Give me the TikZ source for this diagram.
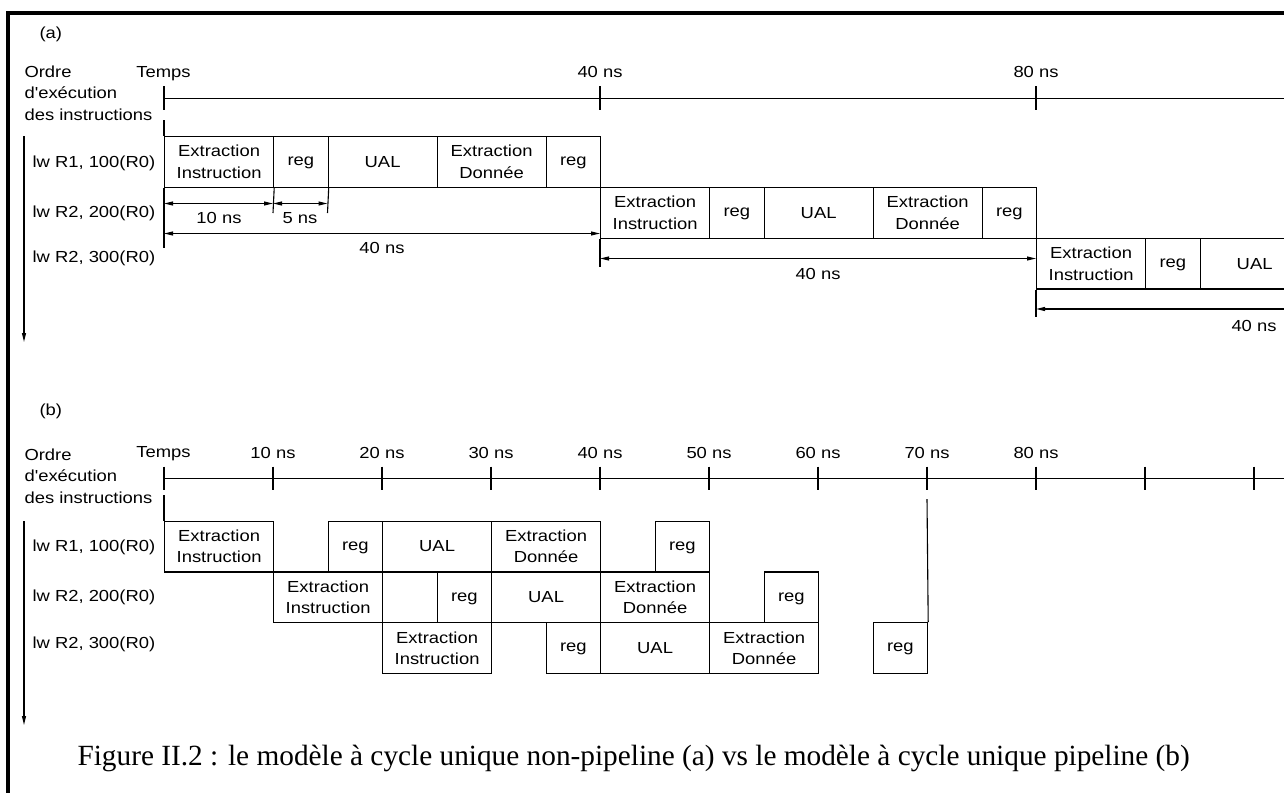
\documentclass[tikz,border=0pt]{standalone}
\usepackage{fontspec}
\setmainfont{Liberation Serif}
\newfontfamily\diagsf[FakeStretch=1.15]{Liberation Sans}
\usetikzlibrary{arrows.meta}

\begin{document}
\begin{tikzpicture}[x=1pt,y=-1pt, line width=1.1pt,
  every node/.style={font=\diagsf\fontsize{16}{21.5}\selectfont, inner sep=0pt},
  stagebox/.style={draw, line width=1.2pt, minimum height=50.8pt, anchor=north west, align=center},
  lbl/.style={anchor=base},
  rowlbl/.style={anchor=base west},
  tip/.style={-{Triangle[length=9pt,width=4pt]}},
  dim/.style={{Triangle[length=9pt,width=4pt]}-{Triangle[length=9pt,width=4pt]}},
  frame/.style={line width=4pt, line join=miter},
]
\useasboundingbox (0,0) rectangle (1284,792);
\clip (0,0) rectangle (1284,792);

% frame
\draw[frame] (8,800) -- (8,13) -- (1300,13);

% ================= (a) =================
\node[anchor=base west] (lblA) at (39,38) {(a)};
\node[anchor=north west, align=left] (ordreA) at (24,65.3) {Ordre\\d'exécution\\des instructions};
\node[lbl] (tempsA) at (163.5,77.5) {Temps};
\node[lbl] (t40A) at (600,77.5) {40 ns};
\node[lbl] (t80A) at (1036,77.5) {80 ns};

\coordinate (aAx0) at (164,98.3);
\coordinate (aAxE) at (1300,98.3);
\draw (aAx0) -- (aAxE);
\foreach \x in {164,600,1036} \draw (\x,86) -- (\x,110);

\node[rowlbl] (ra1) at (32,167) {lw R1, 100(R0)};
\node[rowlbl] (ra2) at (32,217) {lw R2, 200(R0)};
\node[rowlbl] (ra3) at (32,262) {lw R2, 300(R0)};

% row 1
\node[stagebox, minimum width=109pt] (a1if) at (164,136) {Extraction\\Instruction};
\node[stagebox, minimum width=54.5pt] (a1r1) at (273,136) {\vphantom{U}reg};
\node[stagebox, minimum width=109pt] (a1alu) at (327.5,136) {UAL};
\node[stagebox, minimum width=109pt] (a1dm) at (436.5,136) {Extraction\\Donnée};
\node[stagebox, minimum width=54.5pt] (a1r2) at (545.5,136) {\vphantom{U}reg};
% row 2
\node[stagebox, minimum width=109pt] (a2if) at (600,186.8) {Extraction\\Instruction};
\node[stagebox, minimum width=54.5pt] (a2r1) at (709,186.8) {\vphantom{U}reg};
\node[stagebox, minimum width=109pt] (a2alu) at (763.5,186.8) {UAL};
\node[stagebox, minimum width=109pt] (a2dm) at (872.5,186.8) {Extraction\\Donnée};
\node[stagebox, minimum width=54.5pt] (a2r2) at (981.5,186.8) {\vphantom{U}reg};
% row 3 (runs past the right edge)
\node[stagebox, minimum width=109pt] (a3if) at (1036,237.6) {Extraction\\Instruction};
\node[stagebox, minimum width=54.5pt] (a3r1) at (1145,237.6) {\vphantom{U}reg};
\node[stagebox, minimum width=109pt] (a3alu) at (1199.5,237.6) {UAL};

\coordinate (aTempsLow) at (164,120);
\draw (aTempsLow) -- (a1if.north west);

% dimensions
\coordinate (aExt0) at (164,248);
\draw (a1if.south west) -- (aExt0);
\coordinate (aExt10) at (273,213);
\coordinate (aExt15) at (327.5,213);
\draw (a1if.south east) -- (aExt10);
\draw (a1r1.south east) -- (aExt15);
\coordinate (d10l) at (164,203.5);
\coordinate (d10r) at (273,203.5);
\coordinate (d5r) at (327.5,203.5);
\draw[dim] (d10l) -- (d10r);
\draw[dim] (d10r) -- (d5r);
\node[lbl] (l10) at (219,223) {10 ns};
\node[lbl] (l5) at (300,223) {5 ns};

\coordinate (d40al) at (164,233.5);
\coordinate (d40ar) at (600,233.5);
\draw[dim] (d40al) -- (d40ar);
\node[lbl] (l40a) at (382,253) {40 ns};

\coordinate (aExt40) at (600,267);
\draw (a2if.south west) -- (aExt40);
\coordinate (d40bl) at (600,258.5);
\coordinate (d40br) at (1036,258.5);
\draw[dim] (d40bl) -- (d40br);
\node[lbl] (l40b) at (818,279) {40 ns};

\coordinate (aExt80) at (1036,317);
\draw (a3if.south west) -- (aExt80);
\coordinate (d40cl) at (1036,309);
\coordinate (d40cr) at (1472,309);
\draw[dim] (d40cl) -- (d40cr);
\node[lbl] (l40c) at (1254,331.5) {40 ns};

% order arrow
\coordinate (aOrd0) at (24,136);
\coordinate (aOrd1) at (24,342);
\draw[tip] (aOrd0) -- (aOrd1);

% ================= (b) =================
\node[anchor=base west] (lblB) at (39,415) {(b)};
\node[anchor=north west, align=left] (ordreB) at (24,448.3) {Ordre\\d'exécution\\des instructions};
\node[lbl] (tempsB) at (163.5,457.5) {Temps};
\node[lbl] (t10B) at (273,458.5) {10 ns};
\node[lbl] (t20B) at (382,458.5) {20 ns};
\node[lbl] (t30B) at (491,458.5) {30 ns};
\node[lbl] (t40B) at (600,458.5) {40 ns};
\node[lbl] (t50B) at (709,458.5) {50 ns};
\node[lbl] (t60B) at (818,458.5) {60 ns};
\node[lbl] (t70B) at (927,458.5) {70 ns};
\node[lbl] (t80B) at (1036,458.5) {80 ns};

\coordinate (bAx0) at (164,478.3);
\coordinate (bAxE) at (1300,478.3);
\draw (bAx0) -- (bAxE);
\foreach \k in {0,...,10} \draw ({164+109*\k},466.5) -- ({164+109*\k},490);

\node[rowlbl] (rb1) at (32,551.5) {lw R1, 100(R0)};
\node[rowlbl] (rb2) at (32,601.7) {lw R2, 200(R0)};
\node[rowlbl] (rb3) at (32,648) {lw R2, 300(R0)};

% row 1
\node[stagebox, minimum width=109pt] (b1if) at (164,520.5) {Extraction\\Instruction};
\node[stagebox, minimum width=54.5pt] (b1r1) at (327.5,520.5) {\vphantom{U}reg};
\node[stagebox, minimum width=109pt] (b1alu) at (382,520.5) {UAL};
\node[stagebox, minimum width=109pt] (b1dm) at (491,520.5) {Extraction\\Donnée};
\node[stagebox, minimum width=54.5pt] (b1r2) at (654.5,520.5) {\vphantom{U}reg};
% row 2
\node[stagebox, minimum width=109pt] (b2if) at (273,571.3) {Extraction\\Instruction};
\node[stagebox, minimum width=54.5pt] (b2r1) at (436.5,571.3) {\vphantom{U}reg};
\node[stagebox, minimum width=109pt] (b2alu) at (491,571.3) {UAL};
\node[stagebox, minimum width=109pt] (b2dm) at (600,571.3) {Extraction\\Donnée};
\node[stagebox, minimum width=54.5pt] (b2r2) at (763.5,571.3) {\vphantom{U}reg};
% row 3
\node[stagebox, minimum width=109pt] (b3if) at (382,622.1) {Extraction\\Instruction};
\node[stagebox, minimum width=54.5pt] (b3r1) at (545.5,622.1) {\vphantom{U}reg};
\node[stagebox, minimum width=109pt] (b3alu) at (600,622.1) {UAL};
\node[stagebox, minimum width=109pt] (b3dm) at (709,622.1) {Extraction\\Donnée};
\node[stagebox, minimum width=54.5pt] (b3r2) at (872.5,622.1) {\vphantom{U}reg};

\coordinate (bTempsLow) at (164,495);
\draw (bTempsLow) -- (b1if.north west);
\coordinate (b70top) at (927,499);
\draw (b3r2.north east) -- (b70top);

\coordinate (bOrd0) at (24,521);
\coordinate (bOrd1) at (24,725);
\draw[tip] (bOrd0) -- (bOrd1);

% caption
\node[font=\rmfamily\fontsize{29.3}{35}\selectfont, anchor=base west] (caption) at (77,765)
  {Figure II.2 : le modèle à cycle unique non-pipeline (a) vs le modèle à cycle unique pipeline (b)};
\end{tikzpicture}
\end{document}
